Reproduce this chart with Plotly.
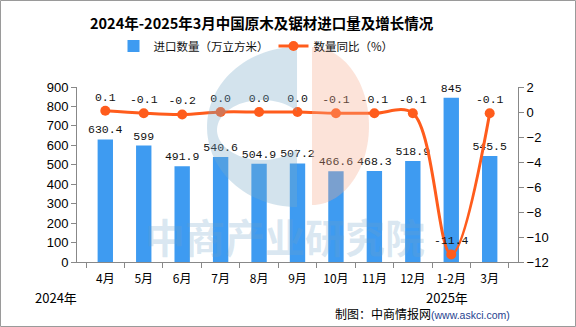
import numpy as np
import plotly.graph_objects as go

categories = ["4月", "5月", "6月", "7月", "8月", "9月", "10月", "11月", "12月", "1-2月", "3月"]
import_volume = [630.4, 599, 491.9, 540.6, 504.9, 507.2, 466.6, 468.3, 518.9, 845, 545.5]
yoy_growth = [0.1, -0.1, -0.2, 0.0, 0.0, 0.0, -0.1, -0.1, -0.1, -11.4, -0.1]
left_ticks = list(range(0, 901, 100))
right_ticks = list(range(-12, 3, 2))

W, H = 576, 327
L, R, T, B = 77, 518, 87, 262  # plot area in pixels


def px(x):
    return (x - L) / (R - L)


def py(y):
    return (B - y) / (B - T)


CJK = "Noto Sans CJK SC"
NUM = "Liberation Sans"
MONO = "Liberation Mono"

fig = go.Figure()
fig.add_trace(go.Bar(
    x=categories, y=import_volume, name="进口数量（万立方米）",
    marker=dict(color="#3e9bf1", line=dict(width=0)), width=0.4,
    text=[f"{v:g}" for v in import_volume], textposition="outside",
    constraintext="none",
    textfont=dict(family=MONO, size=11.5, color="#111"), cliponaxis=False,
))
fig.add_trace(go.Scatter(
    x=categories, y=yoy_growth, name="数量同比（%）", yaxis="y2",
    mode="lines+markers+text",
    line=dict(color="#ff5c1c", width=3, shape="spline", smoothing=1.0),
    marker=dict(size=10, color="#ff5c1c"),
    text=[f"{v:.1f}" for v in yoy_growth], textposition="top center",
    textfont=dict(family=MONO, size=11.5, color="#111"), cliponaxis=False,
))

shapes = []
# watermark logo: blue C shape
cx, cy, rx, ry = 297, 127, 90, 80
icx, icy, irx, iry = 262, 130, 45, 30
t = np.linspace(np.pi / 2, 3 * np.pi / 2, 60)
outer = [(cx + rx * np.cos(a), cy - ry * np.sin(a)) for a in t]
ang = np.arccos((cx - icx) / irx)
ti = np.linspace(-ang, -(2 * np.pi - ang), 60)
inner = [(icx + irx * np.cos(a), icy - iry * np.sin(a)) for a in ti]
pts = outer + inner
path = "M " + " L ".join(f"{px(x):.4f},{py(y):.4f}" for x, y in pts) + " Z"
shapes.append(dict(type="path", path=path, xref="paper", yref="paper",
                   fillcolor="rgba(120,170,200,0.33)", line=dict(width=0), layer="above"))
# orange half shape
ocx, ocy, orx, ory = 312, 126, 57, 79
to = np.linspace(np.pi / 2, -np.pi / 2, 60)
opts = [(ocx + orx * np.cos(a), ocy - ory * np.sin(a)) for a in to]
path2 = "M " + " L ".join(f"{px(x):.4f},{py(y):.4f}" for x, y in opts) + " Z"
shapes.append(dict(type="path", path=path2, xref="paper", yref="paper",
                   fillcolor="rgba(245,170,140,0.33)", line=dict(width=0), layer="above"))
# outer border
shapes.append(dict(type="rect", xref="paper", yref="paper",
                   x0=px(0.5), x1=px(W - 0.5), y0=py(0.5), y1=py(H - 0.5),
                   line=dict(color="#9a9a9a", width=1), fillcolor="rgba(0,0,0,0)", layer="below"))

annotations = [
    dict(text="<b>中商产业研究院</b>", x=px(285), y=py(236), xref="paper", yref="paper",
         showarrow=False, font=dict(family=CJK, size=40, color="rgba(110,160,200,0.25)"),
         xanchor="center", yanchor="middle"),
    dict(text="<b>2024年-2025年3月中国原木及锯材进口量及增长情况</b>", x=px(262), y=py(22),
         xref="paper", yref="paper", showarrow=False, xanchor="center", yanchor="middle",
         font=dict(family=CJK, size=14.5, color="#000")),
    dict(text="2024年", x=px(33), y=py(297), xref="paper", yref="paper", showarrow=False,
         xanchor="left", yanchor="middle", font=dict(family=CJK, size=13, color="#000")),
    dict(text="2025年", x=px(470), y=py(297), xref="paper", yref="paper", showarrow=False,
         xanchor="right", yanchor="middle", font=dict(family=CJK, size=13, color="#000")),
    dict(text="制图：中商情报网<span style='font-size:10.5px;color:#1f3f8f;font-family:Liberation Sans'>(www.askci.com)</span>",
         x=px(512), y=py(313), xref="paper", yref="paper", showarrow=False,
         xanchor="right", yanchor="middle", font=dict(family=CJK, size=12, color="#000")),
]

fig.update_layout(
    width=W, height=H,
    margin=dict(l=L, r=W - R, t=T, b=H - B, pad=0),
    paper_bgcolor="white", plot_bgcolor="white",
    showlegend=True,
    legend=dict(orientation="h", x=px(256), xanchor="center", y=py(46), yanchor="middle",
                font=dict(family=CJK, size=11.5, color="#111"), itemwidth=30,
                bgcolor="rgba(0,0,0,0)", traceorder="normal"),
    bargap=0.6,
    xaxis=dict(type="category", showline=True, linecolor="#888", linewidth=1,
               ticks="outside", tickson="boundaries", ticklen=5, tickcolor="#888",
               tickangle=0,
               tickfont=dict(family=CJK, size=12, color="#000"), showgrid=False,
               ticklabelstandoff=6),
    yaxis=dict(range=[0, 900], tickvals=left_ticks, showline=True, linecolor="#888",
               ticks="outside", ticklen=5, tickcolor="#888", showgrid=False, zeroline=False,
               tickfont=dict(family=NUM, size=13, color="#000")),
    yaxis2=dict(range=[-12, 2], tickvals=right_ticks, overlaying="y", side="right",
                showline=True, linecolor="#888", ticks="outside", ticklen=5, tickcolor="#888",
                showgrid=False, zeroline=False,
                ticktext=[str(v).replace("-", "−") for v in right_ticks],
                tickfont=dict(family=NUM, size=13, color="#000")),
    shapes=shapes,
    annotations=annotations,
)

fig.write_html("out.html")
